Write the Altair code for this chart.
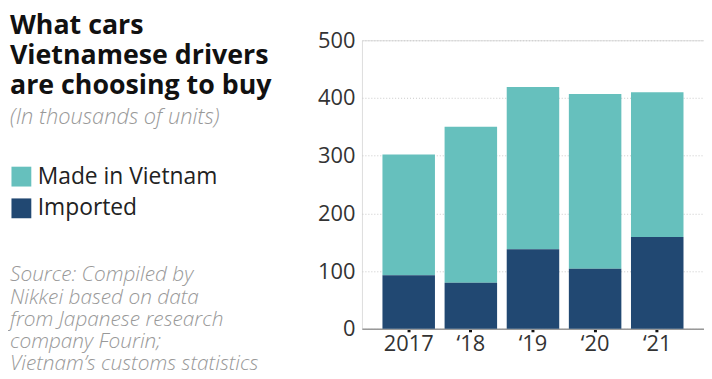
import altair as alt
import pandas as pd

years = ["2017", "‘18", "‘19", "‘20", "‘21"]
imported = [93, 80, 138, 104, 159]
made_in_vietnam = [209, 270, 281, 303, 251]
series = ["Made in Vietnam", "Imported"]
colors = ["#66c0bd", "#214872"]

rows = []
for y, m, i in zip(years, made_in_vietnam, imported):
    rows.append({"year": y, "series": "Made in Vietnam", "value": m, "ord": 1})
    rows.append({"year": y, "series": "Imported", "value": i, "ord": 0})
df = pd.DataFrame(rows)

FONT = "Open Sans"

bars = alt.Chart(df).mark_bar().encode(
    x=alt.X("year:N", sort=years, title=None,
            scale=alt.Scale(paddingInner=0.155, paddingOuter=0.33),
            axis=alt.Axis(labelAngle=0, labelFontSize=22, labelColor="#333",
                          labelFont=FONT, labelPadding=2,
                          domainColor="#999", domainWidth=1.5,
                          tickColor="#111", tickSize=3, tickWidth=3,
                          grid=False)),
    y=alt.Y("value:Q", stack="zero", title=None,
            scale=alt.Scale(domain=[0, 500]),
            axis=alt.Axis(values=[0, 100, 200, 300, 400, 500], labelFontSize=22,
                          labelColor="#333", labelFont=FONT, labelPadding=7,
                          domain=False, ticks=False, grid=True,
                          gridColor="#c8c8c8", gridDash=[1, 2], gridWidth=1)),
    color=alt.Color("series:N", sort=series,
                    scale=alt.Scale(domain=series, range=colors),
                    legend=alt.Legend(title=None, orient="none", legendX=-355,
                                      legendY=126, symbolType="square",
                                      symbolSize=400, symbolStrokeWidth=0,
                                      symbolOpacity=1, labelLimit=300,
                                      labelFontSize=23, labelFont=FONT,
                                      labelColor="#222", rowPadding=8,
                                      labelOffset=5)),
    order=alt.Order("ord:Q"),
)

one = pd.DataFrame({"k": [0]})

title = alt.Chart(one).mark_text(
    align="left", baseline="alphabetic", font=FONT, fontWeight="bold",
    fontSize=27, lineHeight=30, color="#111"
).encode(x=alt.value(-355), y=alt.value(-6),
         text=alt.value(["What cars", "Vietnamese drivers", "are choosing to buy"]))

subtitle = alt.Chart(one).mark_text(
    align="left", baseline="alphabetic", font=FONT, fontStyle="italic",
    fontWeight=300, fontSize=22, color="#999"
).encode(x=alt.value(-355), y=alt.value(84),
         text=alt.value("(In thousands of units)"))

source = alt.Chart(one).mark_text(
    align="left", baseline="alphabetic", font=FONT, fontStyle="italic",
    fontWeight=300, fontSize=21, lineHeight=22.5, color="#999"
).encode(x=alt.value(-355), y=alt.value(243),
         text=alt.value(["Source: Compiled by", "Nikkei based on data",
                         "from Japanese research", "company Fourin;",
                         "Vietnam’s customs statistics"]))

chart = alt.layer(bars, title, subtitle, source).properties(
    width=345, height=291,
    autosize=alt.AutoSizeParams(type="none"),
    padding={"left": 357, "top": 31, "right": 0, "bottom": 41},
).configure_view(stroke=None).configure(background="white")

chart.save("out.html", embed_options={"renderer": "svg", "actions": False})
